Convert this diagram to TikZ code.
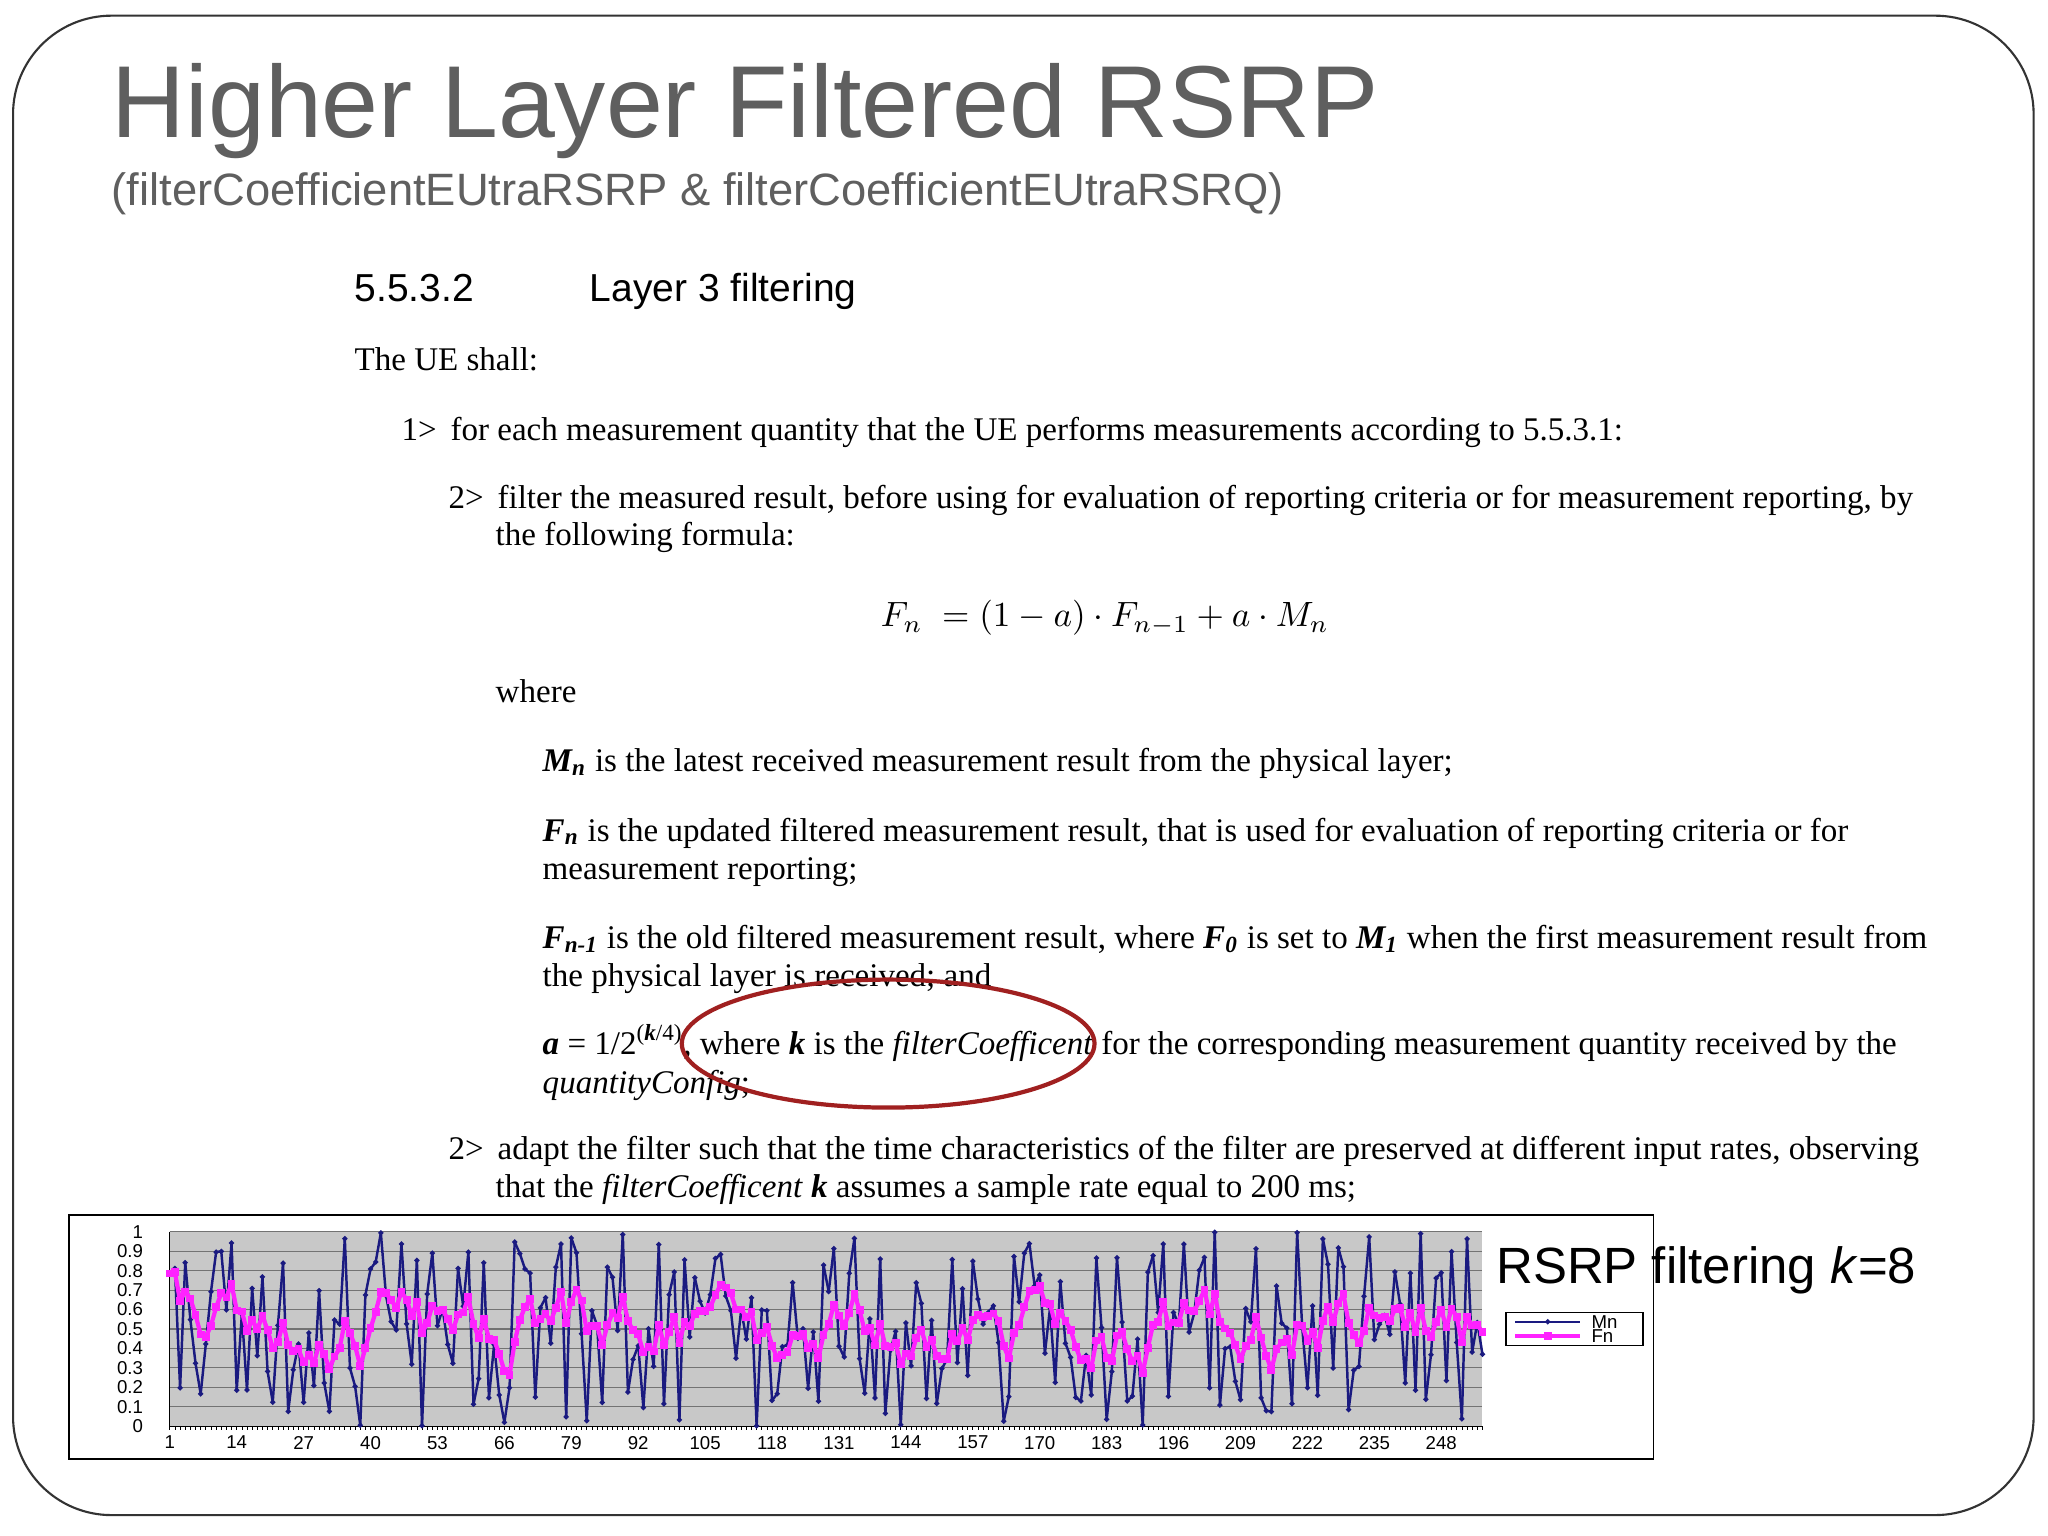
\documentclass[tikz,border=0pt]{standalone}
\usepackage{fontspec}
\setmainfont{Liberation Serif}
\setsansfont{Liberation Sans}
\usetikzlibrary{shapes.geometric}
\definecolor{ttl}{HTML}{5F5F5F}
\definecolor{navyc}{HTML}{1A1A80}
\definecolor{magc}{HTML}{FF22FF}
\definecolor{plotbg}{HTML}{C8C8C8}
\definecolor{ellc}{HTML}{A02020}
\tikzset{
 body/.style={anchor=base west,inner sep=0pt,font=\fontsize{9.4}{11}\selectfont},
 tick/.style={font=\sffamily\fontsize{5.3}{6}\selectfont,inner sep=0pt},
}
\begin{document}
\begin{tikzpicture}[x=0.013061cm,y=-0.013061cm]
\useasboundingbox (0,0) rectangle (1568,1176);
\fill[white] (0,0) rectangle (1568,1176);
\draw[black!80,line width=0.6pt,rounded corners=28pt] (10,12) rectangle (1557,1160);
\node[anchor=base west,inner sep=0pt,text=ttl,font=\sffamily\fontsize{29.1}{32}\selectfont] (title) at (85,105) {Higher Layer Filtered RSRP};
\node[anchor=base west,inner sep=0pt,text=ttl,font=\sffamily\fontsize{12.9}{15}\selectfont] (sub) at (85,157) {(filterCoefficientEUtraRSRP \& filterCoefficientEUtraRSRQ)};
\node[anchor=base west,inner sep=0pt,font=\sffamily\fontsize{11.1}{13}\selectfont] (sec) at (271,231) {5.5.3.2};
\node[anchor=base west,inner sep=0pt,font=\sffamily\fontsize{11.1}{13}\selectfont] (sect) at (451,231) {Layer 3 filtering};
\node[body] (t1) at (271,284) {The UE shall:};
\node[body] (t2) at (307,337) {1>\, for each measurement quantity that the UE performs measurements according to 5.5.3.1:};
\node[body] (t3) at (343,389) {2>\, filter the measured result, before using for evaluation of reporting criteria or for measurement reporting, by};
\node[body] (t4) at (379,418) {the following formula:};
\node[anchor=base,inner sep=0pt,font=\fontsize{10}{12}\selectfont] (eq) at (846,480) {$F_n\;=(1-a)\cdot F_{n-1}+a\cdot M_n$};
\node[body] (t5) at (379,538) {where};
\node[body] (t6) at (415,591) {\textbf{\textit{M\textsubscript{n}}} is the latest received measurement result from the physical layer;};
\node[body] (t7) at (415,644) {\textbf{\textit{F\textsubscript{n}}} is the updated filtered measurement result, that is used for evaluation of reporting criteria or for};
\node[body] (t8) at (415,673) {measurement reporting;};
\node[body] (t9) at (415,726) {\textbf{\textit{F\textsubscript{n-1}}} is the old filtered measurement result, where \textbf{\textit{F\textsubscript{0}}} is set to \textbf{\textit{M\textsubscript{1}}} when the first measurement result from};
\node[body] (t10) at (415,755) {the physical layer is received; and};
\node[body] (t11) at (415,807) {\textbf{\textit{a}} = 1/2\textsuperscript{(\textbf{\textit{k}}/4)}, where \textbf{\textit{k}} is the \textit{filterCoefficent} for the corresponding measurement quantity received by the};
\node[body] (t12) at (415,837) {\textit{quantityConfig};};
\node[body] (t13) at (343,888) {2>\, adapt the filter such that the time characteristics of the filter are preserved at different input rates, observing};
\node[body] (t14) at (379,917) {that the \textit{filterCoefficent} \textbf{\textit{k}} assumes a sample rate equal to 200 ms;};
\node[draw=ellc,line width=1.2pt,ellipse,minimum width=4.127cm,minimum height=1.28cm] (ell) at (680,799) {};
% chart
\draw[black,line width=0.5pt] (53,930) rectangle (1266,1117);
\fill[plotbg] (130,943) rectangle (1135,1092);
\foreach \v in {0,1,...,10}{
  \draw[black!55,line width=0.3pt] (130,{1092-14.9*\v}) -- (1135,{1092-14.9*\v});
  \pgfmathsetmacro\lab{\v==10?"1":(\v==0?"0":"0.\v")}
  \node[tick,anchor=east] (yl\v) at (110,{1092-14.9*\v}) {\lab};
}
\draw[black,line width=0.4pt] (130,943) -- (130,1092) -- (1135,1092);
\foreach \i [count=\c from 0] in {1,14,27,40,53,66,79,92,105,118,131,144,157,170,183,196,209,222,235,248}{
  \node[tick,anchor=north] (xl\c) at ({130+(\i-1)*3.9412},1099) {\i};
}
\foreach \i in {1,...,256}{\draw[black,line width=0.2pt] ({130+(\i-1)*3.9412},1092) -- ++(0,3);}
% Mn
\pgfmathsetseed{4}
\foreach \i in {1,...,256}{
  \pgfmathsetmacro\m{rnd}
  \pgfmathsetmacro\xx{130+(\i-1)*3.9412}
  \pgfmathsetmacro\yy{1092-149*\m}
  \ifnum\i>1 \draw[navyc,line width=0.7pt] (\px,\py) -- (\xx,\yy);\fi
  \fill[navyc] (\xx,\yy) +(-2.2,0) -- +(0,-2.2) -- +(2.2,0) -- +(0,2.2) -- cycle;
  \xdef\px{\xx}\xdef\py{\yy}
}
% Fn
\pgfmathsetseed{4}
\xdef\pf{0.5}
\foreach \i in {1,...,256}{
  \pgfmathsetmacro\m{rnd}
  \ifnum\i=1 \pgfmathsetmacro\f{\m}\else\pgfmathsetmacro\f{0.75*\pf+0.25*\m}\fi
  \pgfmathsetmacro\xx{130+(\i-1)*3.9412}
  \pgfmathsetmacro\yy{1092-149*\f}
  \ifnum\i>1 \draw[magc,line width=1.2pt] (\px,\py) -- (\xx,\yy);\fi
  \fill[magc] (\xx,\yy) +(-3,-3) rectangle +(3,3);
  \xdef\px{\xx}\xdef\py{\yy}\xdef\pf{\f}
}
% legend
\draw[black,line width=0.4pt] (1153,1005) rectangle (1258,1030);
\draw[navyc,line width=0.7pt] (1160,1012) -- (1210,1012);
\fill[navyc] (1185,1012) +(-2.2,0) -- +(0,-2.2) -- +(2.2,0) -- +(0,2.2) -- cycle;
\node[tick,anchor=west] (lm) at (1218,1012) {Mn};
\draw[magc,line width=1.2pt] (1160,1023) -- (1210,1023);
\fill[magc] (1182,1020) rectangle (1188,1026);
\node[tick,anchor=west] (lf) at (1218,1023) {Fn};
\node[anchor=base west,inner sep=0pt,font=\sffamily\fontsize{14.5}{16}\selectfont] (rs) at (1145,983) {RSRP filtering \textit{k}=8};
\end{tikzpicture}
\end{document}
